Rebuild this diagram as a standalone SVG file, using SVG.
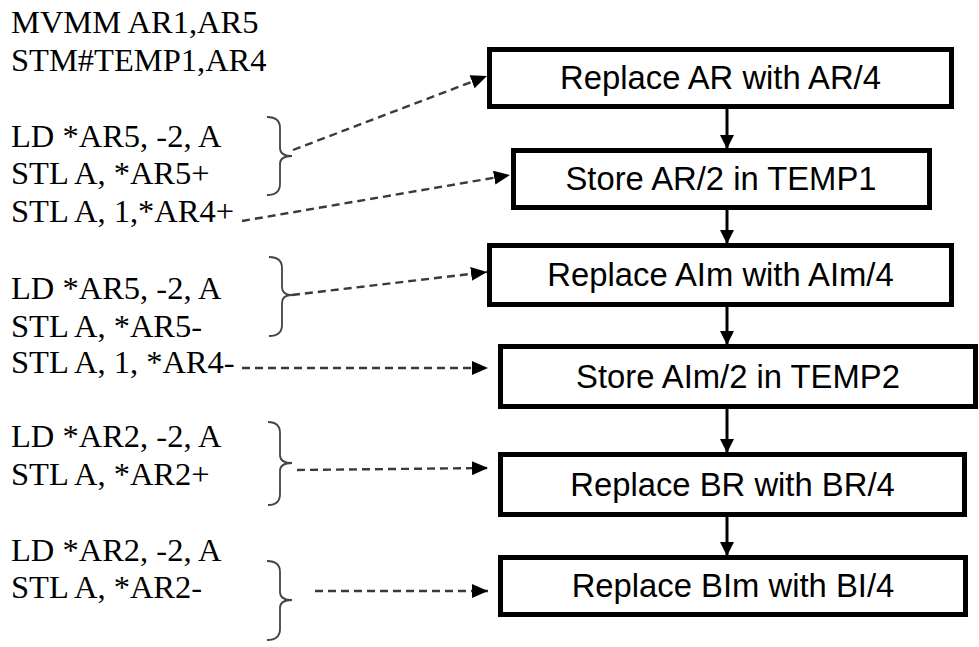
<svg xmlns="http://www.w3.org/2000/svg" width="979" height="647" viewBox="0 0 979 647">
<defs>
<style>
.code{font-family:"Liberation Serif","Times New Roman",serif;font-size:32.5px;fill:#000}
.lbl{font-family:"Liberation Sans",Arial,sans-serif;font-size:32.8px;fill:#000;text-anchor:middle}
.box{fill:#fff;stroke:#000;stroke-width:5}
.brace{fill:none;stroke:#444;stroke-width:1.8}
.dash{fill:none;stroke:#3a3a3a;stroke-width:2.4;stroke-dasharray:8 5;marker-end:url(#ah)}
.flow{fill:none;stroke:#000;stroke-width:3;marker-end:url(#fh)}
</style>
<marker id="ah" viewBox="0 0 16 14" refX="16" refY="7" markerWidth="16" markerHeight="14" markerUnits="userSpaceOnUse" orient="auto">
<path d="M0,0 L16,7 L0,14 Z" fill="#000"/>
</marker>
<marker id="fh" viewBox="0 0 14 14" refX="13" refY="7" markerWidth="14" markerHeight="14" markerUnits="userSpaceOnUse" orient="auto">
<path d="M0,0 L14,7 L0,14 Z" fill="#000"/>
</marker>
</defs>
<rect width="979" height="647" fill="#fff"/>

<g id="code">
<text class="code" x="11" y="33">MVMM AR1,AR5</text>
<text class="code" x="11" y="71">STM#TEMP1,AR4</text>
<text class="code" x="11" y="147">LD *AR5, -2, A</text>
<text class="code" x="11" y="184">STL A, *AR5+</text>
<text class="code" x="11" y="222">STL A, 1,*AR4+</text>
<text class="code" x="11" y="299">LD *AR5, -2, A</text>
<text class="code" x="11" y="337">STL A, *AR5-</text>
<text class="code" x="11" y="373">STL A, 1, *AR4-</text>
<text class="code" x="11" y="447">LD *AR2, -2, A</text>
<text class="code" x="11" y="485">STL A, *AR2+</text>
<text class="code" x="11" y="561">LD *AR2, -2, A</text>
<text class="code" x="11" y="598">STL A, *AR2-</text>
</g>

<g id="braces">
<path class="brace" d="M267,117 Q280,117 280,128 L280,148 Q280,156 292,156 Q280,156 280,164 L280,184 Q280,195 267,195"/>
<path class="brace" d="M269,257 Q282,257 282,268 L282,287 Q282,295 292,295 Q282,295 282,303 L282,325 Q282,336 269,336"/>
<path class="brace" d="M268,422 Q280,422 280,433 L280,455 Q280,463 292,463 Q280,463 280,471 L280,494 Q280,505 268,505"/>
<path class="brace" d="M267,561 Q280,561 280,572 L280,592 Q280,600 292,600 Q280,600 280,608 L280,629 Q280,640 267,640"/>
</g>

<g id="n1"><rect class="box" x="489.5" y="49.5" width="462" height="57"/><text class="lbl" x="720.5" y="89">Replace AR with AR/4</text></g>
<g id="n2"><rect class="box" x="513.5" y="150.5" width="416" height="57"/><text class="lbl" x="721" y="190">Store AR/2 in TEMP1</text></g>
<g id="n3"><rect class="box" x="489.5" y="245.5" width="462" height="59"/><text class="lbl" x="720.5" y="286">Replace AIm with AIm/4</text></g>
<g id="n4"><rect class="box" x="500.5" y="346.5" width="475" height="60"/><text class="lbl" x="738" y="388">Store AIm/2 in TEMP2</text></g>
<g id="n5"><rect class="box" x="500.5" y="454.5" width="464" height="60"/><text class="lbl" x="732.5" y="496">Replace BR with BR/4</text></g>
<g id="n6"><rect class="box" x="500.5" y="557.5" width="465" height="57"/><text class="lbl" x="733" y="597">Replace BIm with BI/4</text></g>

<g id="connectors">
<line class="flow" x1="727" y1="109" x2="727" y2="148"/>
<line class="flow" x1="727" y1="210" x2="727" y2="243"/>
<line class="flow" x1="727" y1="307" x2="727" y2="344"/>
<line class="flow" x1="727" y1="409" x2="727" y2="452"/>
<line class="flow" x1="727" y1="517" x2="727" y2="555"/>
<line class="dash" x1="293" y1="150" x2="487" y2="76"/>
<line class="dash" x1="242" y1="221" x2="510" y2="175"/>
<line class="dash" x1="292" y1="295" x2="487" y2="272"/>
<line class="dash" x1="242" y1="368" x2="488" y2="368"/>
<line class="dash" x1="297" y1="470" x2="488" y2="468"/>
<line class="dash" x1="315" y1="591" x2="488" y2="591"/>
</g>
</svg>
